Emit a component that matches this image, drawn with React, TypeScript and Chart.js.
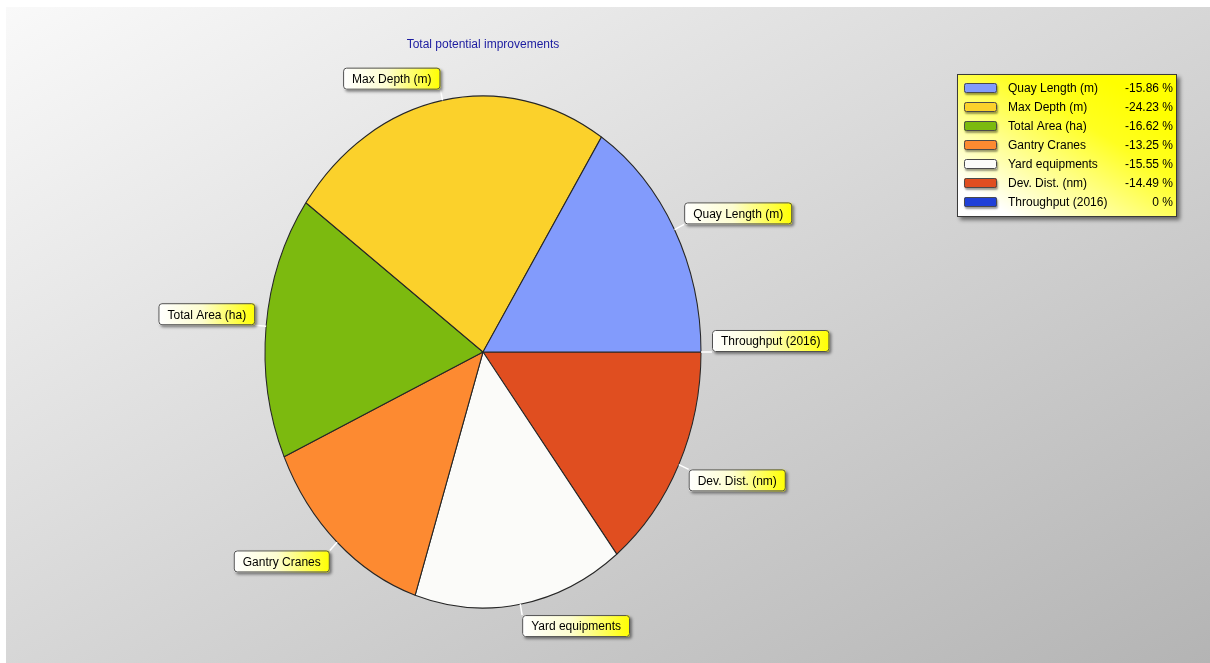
import React, { useEffect, useRef } from "react";
import { Chart, registerables } from "chart.js";

Chart.register(...registerables);

const chartTitle = "Total potential improvements";
const categories = [
  "Quay Length (m)",
  "Max Depth (m)",
  "Total Area (ha)",
  "Gantry Cranes",
  "Yard equipments",
  "Dev. Dist. (nm)",
  "Throughput (2016)",
];
const improvements = [-15.86, -24.23, -16.62, -13.25, -15.55, -14.49, 0];
const sliceColors = [
  "#829bfc",
  "#fbd12b",
  "#7cba0f",
  "#fd8a31",
  "#fbfbf9",
  "#e04e20",
  "#2040d8",
];

// the pie is drawn clockwise from 3 o'clock, the original goes the other way
const drawOrder = [5, 4, 3, 2, 1, 0, 6];

const FONT = '"Liberation Sans", Arial, sans-serif';
const RX = 218;
const RY = 256;

const formatValue = (v: number) => (v === 0 ? "0 %" : v.toFixed(2) + " %");

const App: React.FC = () => {
  const canvasRef = useRef<HTMLCanvasElement | null>(null);
  const chartRef = useRef<Chart<"pie", number[], string> | null>(null);

  useEffect(() => {
    if (!canvasRef.current) return;
    const ctx = canvasRef.current.getContext("2d");
    if (!ctx) return;
    if (chartRef.current) chartRef.current.destroy();

    const background = {
      id: "background",
      beforeDraw(chart: any) {
        const c = chart.ctx;
        const w = chart.width;
        const h = chart.height;
        c.save();
        c.fillStyle = "#ffffff";
        c.fillRect(0, 0, w, h);
        // diagonal gradient in the box's own unit space
        c.save();
        c.translate(6, 7);
        c.scale(w - 6, h - 7);
        const g = c.createLinearGradient(0, 0, 1, 1);
        g.addColorStop(0, "#f9f9f9");
        g.addColorStop(1, "#b4b4b4");
        c.fillStyle = g;
        c.fillRect(0, 0, 1, 1);
        c.restore();
        c.fillStyle = "#1c1ca0";
        c.font = "12px " + FONT;
        c.textAlign = "center";
        c.textBaseline = "middle";
        c.fillText(chartTitle, 483, 45);
        c.restore();
      },
    };

    // squeeze the round pie into the upright ellipse of the original
    const ellipse = {
      id: "ellipse",
      beforeDatasetsDraw(chart: any) {
        const arc = chart.getDatasetMeta(0).data[0];
        const c = chart.ctx;
        c.save();
        c.translate(arc.x, arc.y);
        c.scale(RX / arc.outerRadius, RY / arc.outerRadius);
        c.translate(-arc.x, -arc.y);
      },
      afterDatasetsDraw(chart: any) {
        chart.ctx.restore();
      },
    };

    const sliceLabels = {
      id: "sliceLabels",
      afterDatasetsDraw(chart: any) {
        const c = chart.ctx;
        const arcs = chart.getDatasetMeta(0).data;
        const labels = chart.data.labels as string[];
        c.save();
        c.font = "12px " + FONT;
        arcs.forEach((arc: any, i: number) => {
          const mid = (arc.startAngle + arc.endAngle) / 2;
          const cos = Math.cos(mid);
          const sin = Math.sin(mid);
          const sx = arc.x + RX * cos;
          const sy = arc.y + RY * sin;
          const ex = arc.x + (RX + 11) * cos;
          const ey = arc.y + (RY + 11) * sin;
          c.strokeStyle = "#ffffff";
          c.lineWidth = 1.5;
          c.beginPath();
          c.moveTo(sx, sy);
          c.lineTo(ex, ey);
          c.stroke();

          const text = labels[i];
          const w = c.measureText(text).width + 18;
          const h = 22;
          const bx = cos >= 0 ? ex : ex - w;
          const by = sin <= 0.001 ? ey - h : ey;
          const g = c.createLinearGradient(bx, 0, bx + w, 0);
          g.addColorStop(0, "#ffffff");
          g.addColorStop(0.45, "#fdfdd0");
          g.addColorStop(1, "#ffff00");
          c.save();
          c.shadowColor = "rgba(0,0,0,0.45)";
          c.shadowOffsetX = 2;
          c.shadowOffsetY = 2;
          c.shadowBlur = 3;
          c.fillStyle = g;
          c.beginPath();
          c.roundRect(bx, by, w, h, 3);
          c.fill();
          c.restore();
          c.strokeStyle = "#505050";
          c.lineWidth = 1;
          c.beginPath();
          c.roundRect(bx + 0.5, by + 0.5, w - 1, h - 1, 3);
          c.stroke();
          c.fillStyle = "#000000";
          c.textAlign = "left";
          c.textBaseline = "middle";
          c.fillText(text, bx + 9, by + h / 2 + 1);
        });
        c.restore();
      },
    };

    const legendBox = {
      id: "legendBox",
      afterDraw(chart: any) {
        const c = chart.ctx;
        const x = 957;
        const y = 74;
        const w = 220;
        const h = 143;
        c.save();
        const g = c.createLinearGradient(x + w * 0.65, y, x + w * 0.25, y + h);
        g.addColorStop(0, "#ffff00");
        g.addColorStop(0.3, "#ffff20");
        g.addColorStop(1, "#ffffff");
        c.save();
        c.shadowColor = "rgba(0,0,0,0.5)";
        c.shadowOffsetX = 3;
        c.shadowOffsetY = 3;
        c.shadowBlur = 4;
        c.fillStyle = g;
        c.fillRect(x, y, w, h);
        c.restore();
        c.strokeStyle = "#3a3a3a";
        c.lineWidth = 1;
        c.strokeRect(x + 0.5, y + 0.5, w - 1, h - 1);

        c.font = "12px " + FONT;
        c.textBaseline = "middle";
        categories.forEach((name, i) => {
          const ry = y + 14 + i * 19;
          c.save();
          c.shadowColor = "rgba(0,0,0,0.4)";
          c.shadowOffsetX = 1;
          c.shadowOffsetY = 2;
          c.shadowBlur = 2;
          c.fillStyle = sliceColors[i];
          c.beginPath();
          c.roundRect(x + 7, ry - 5, 33, 10, 2);
          c.fill();
          c.restore();
          c.strokeStyle = "#4a4a4a";
          c.beginPath();
          c.roundRect(x + 7.5, ry - 4.5, 32, 9, 2);
          c.stroke();
          c.fillStyle = "#000000";
          c.textAlign = "left";
          c.fillText(name, x + 51, ry + 1);
          c.textAlign = "right";
          c.fillText(formatValue(improvements[i]), x + w - 4, ry + 1);
        });
        c.restore();
      },
    };

    chartRef.current = new Chart(ctx, {
      type: "pie",
      data: {
        labels: drawOrder.map((i) => categories[i]),
        datasets: [
          {
            data: drawOrder.map((i) => Math.abs(improvements[i])),
            backgroundColor: drawOrder.map((i) => sliceColors[i]),
            borderColor: "#262626",
            borderWidth: 1.2,
            hoverOffset: 0,
          },
        ],
      },
      options: {
        responsive: true,
        maintainAspectRatio: false,
        animation: false,
        events: [],
        rotation: 90,
        layout: {
          padding: { left: 227, right: 471, top: 96, bottom: 55 },
        },
        plugins: {
          legend: { display: false },
          title: { display: false },
          tooltip: { enabled: false },
        },
      },
      plugins: [background, ellipse, sliceLabels, legendBox],
    });

    return () => {
      if (chartRef.current) {
        chartRef.current.destroy();
        chartRef.current = null;
      }
    };
  }, []);

  return (
    <div
      style={{
        position: "absolute",
        left: 0,
        top: 0,
        width: 1210,
        height: 663,
      }}
    >
      <canvas ref={canvasRef}></canvas>
    </div>
  );
};

export default App;
